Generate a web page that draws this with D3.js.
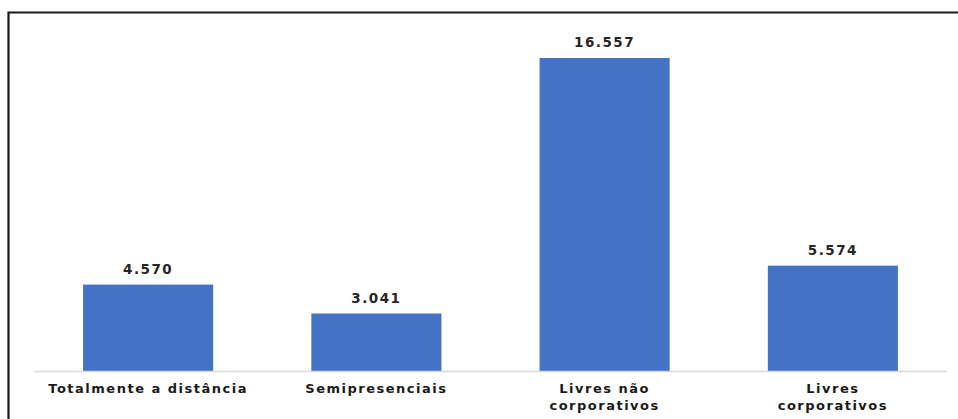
<!DOCTYPE html>
<html>
<head>
<meta charset="utf-8">
<script src="https://cdn.jsdelivr.net/npm/d3@7"></script>
<style>
  html, body { margin: 0; padding: 0; background: #fff; }
  svg { display: block; }
</style>
</head>
<body>
<script>
// Matrículas por tipo de curso
const categories = [
  ["Totalmente a distância"],
  ["Semipresenciais"],
  ["Livres não", "corporativos"],
  ["Livres", "corporativos"]
];
const values = [4570, 3041, 16557, 5574];
const valueLabels = ["4.570", "3.041", "16.557", "5.574"];

const W = 958, H = 419;
const svg = d3.select("body").append("svg").attr("width", W).attr("height", H);

// outer frame (top and left edges visible)
svg.append("path")
  .attr("d", "M8.5,419 L8.5,12.5 L958,12.5")
  .attr("fill", "none")
  .attr("stroke", "#1a1a1a")
  .attr("stroke-width", 2.2);

const baseline = 371;
const x = d3.scaleBand()
  .domain(d3.range(values.length))
  .range([34, 947])
  .paddingInner(0.43)
  .paddingOuter(0.215);

const y = d3.scaleLinear()
  .domain([0, 16557])
  .range([baseline, 58]);

svg.selectAll("rect.bar")
  .data(values)
  .join("rect")
  .attr("class", "bar")
  .attr("x", (d, i) => x(i))
  .attr("width", x.bandwidth())
  .attr("y", d => y(d))
  .attr("height", d => baseline - y(d))
  .attr("fill", "#4472C4");

// category axis line
svg.append("line")
  .attr("x1", 34).attr("x2", 947)
  .attr("y1", baseline + 0.5).attr("y2", baseline + 0.5)
  .attr("stroke", "#d9d9d9")
  .attr("stroke-width", 1.5);

// value labels
svg.selectAll("text.val")
  .data(values)
  .join("text")
  .attr("class", "val")
  .attr("x", (d, i) => x(i) + x.bandwidth() / 2)
  .attr("y", d => y(d) - 11)
  .attr("text-anchor", "middle")
  .attr("font-family", "DejaVu Sans")
  .attr("font-weight", "bold")
  .attr("font-size", 13.5)
  .attr("letter-spacing", 1.5)
  .attr("fill", "#262626")
  .text((d, i) => valueLabels[i]);

// category labels
const cat = svg.selectAll("text.cat")
  .data(categories)
  .join("text")
  .attr("class", "cat")
  .attr("text-anchor", "middle")
  .attr("font-family", "DejaVu Sans")
  .attr("font-weight", "bold")
  .attr("font-size", 13)
  .attr("letter-spacing", 1.5)
  .attr("fill", "#1a1a1a");

cat.selectAll("tspan")
  .data((d, i) => d.map(t => ({ t, i })))
  .join("tspan")
  .attr("x", d => x(d.i) + x.bandwidth() / 2)
  .attr("y", (d, j) => 393 + j * 17)
  .text(d => d.t);
</script>
</body>
</html>
